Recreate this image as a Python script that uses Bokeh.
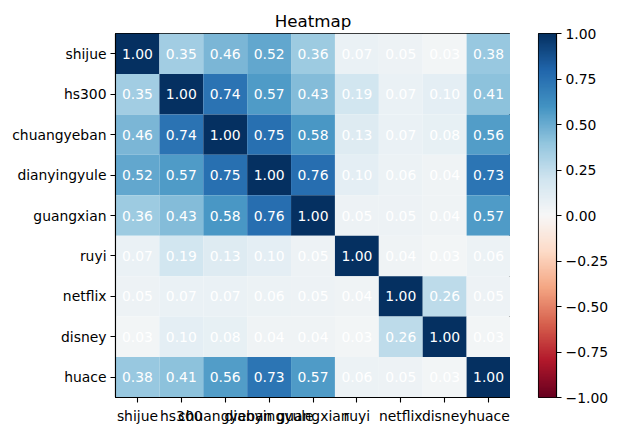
import numpy as np
from bokeh.plotting import figure
from bokeh.layouts import row
from bokeh.models import (ColumnDataSource, LinearColorMapper, FixedTicker,
                          CustomJSTickFormatter, FactorRange, Range1d)
from bokeh.core.properties import value
from bokeh.embed import file_html
from bokeh.resources import INLINE

names = ["shijue", "hs300", "chuangyeban", "dianyingyule", "guangxian",
         "ruyi", "netflix", "disney", "huace"]
row_shijue = [1.00, 0.35, 0.46, 0.52, 0.36, 0.07, 0.05, 0.03, 0.38]
row_hs300 = [0.35, 1.00, 0.74, 0.57, 0.43, 0.19, 0.07, 0.10, 0.41]
row_chuangyeban = [0.46, 0.74, 1.00, 0.75, 0.58, 0.13, 0.07, 0.08, 0.56]
row_dianyingyule = [0.52, 0.57, 0.75, 1.00, 0.76, 0.10, 0.06, 0.04, 0.73]
row_guangxian = [0.36, 0.43, 0.58, 0.76, 1.00, 0.05, 0.05, 0.04, 0.57]
row_ruyi = [0.07, 0.19, 0.13, 0.10, 0.05, 1.00, 0.04, 0.03, 0.06]
row_netflix = [0.05, 0.07, 0.07, 0.06, 0.05, 0.04, 1.00, 0.26, 0.05]
row_disney = [0.03, 0.10, 0.08, 0.04, 0.04, 0.03, 0.26, 1.00, 0.03]
row_huace = [0.38, 0.41, 0.56, 0.73, 0.57, 0.06, 0.05, 0.03, 1.00]
rows = [row_shijue, row_hs300, row_chuangyeban, row_dianyingyule, row_guangxian,
        row_ruyi, row_netflix, row_disney, row_huace]
cbar_ticks = [-1.0, -0.75, -0.5, -0.25, 0.0, 0.25, 0.5, 0.75, 1.0]
vmin, vmax = -1.0, 1.0

# matplotlib RdBu anchors, interpolated to 256 colours
anchors = ["#67001f", "#b2182b", "#d6604d", "#f4a582", "#fddbc7", "#f7f7f7",
           "#d1e5f0", "#92c5de", "#4393c3", "#2166ac", "#053061"]
arr = np.array([[int(h[i:i + 2], 16) for i in (1, 3, 5)] for h in anchors], float)
pos = np.linspace(0, 1, len(anchors))
pal = []
for v in np.linspace(0, 1, 256):
    rgb = [np.interp(v, pos, arr[:, k]) for k in range(3)]
    pal.append("#%02x%02x%02x" % tuple(int(round(c)) for c in rgb))

xs, ys, vals, labels = [], [], [], []
for i, r in enumerate(rows):
    for j, v in enumerate(r):
        xs.append(names[j])
        ys.append(names[i])
        vals.append(v)
        labels.append("%.2f" % v)
src = ColumnDataSource(dict(x=xs, y=ys, v=vals, lab=labels))

mapper = LinearColorMapper(palette=pal, low=vmin, high=vmax)

FONT = "DejaVu Sans"
TOP, BOT, FH = 33, 26, 364

p = figure(output_backend="svg", toolbar_location=None,
           x_range=FactorRange(*names), y_range=FactorRange(*names[::-1]),
           title="Heatmap", frame_width=395, frame_height=FH,
           min_border_left=115, min_border_right=0,
           min_border_top=TOP, min_border_bottom=BOT)
p.x_range.range_padding = 0
p.y_range.range_padding = 0
p.rect(x="x", y="y", width=1, height=1, source=src,
       fill_color={"field": "v", "transform": mapper}, line_color=None)
p.text(x="x", y="y", text="lab", source=src, text_color="white",
       text_align="center", text_baseline="middle",
       text_font=value(FONT), text_font_size="13.9px")

p.title.align = "center"
p.title.text_font = FONT
p.title.text_font_size = "16.7px"
p.title.text_font_style = "normal"
p.title.text_color = "black"
p.title.standoff = 6

p.grid.visible = False
p.outline_line_color = "black"
p.outline_line_width = 1.1
p.background_fill_color = "white"
p.border_fill_color = "white"
for ax in (p.xaxis[0], p.yaxis[0]):
    ax.axis_line_color = "black"
    ax.axis_line_width = 1.1
    ax.major_tick_line_color = "black"
    ax.major_tick_line_width = 1.1
    ax.major_tick_in = 0
    ax.major_tick_out = 5
    ax.major_label_text_font = FONT
    ax.major_label_text_font_size = "13.9px"
    ax.major_label_text_color = "black"
p.xaxis.major_label_standoff = 5
p.yaxis.major_label_standoff = 4

# colour bar as its own small figure
grad = np.linspace(vmin, vmax, 256).reshape(256, 1)
c = figure(output_backend="svg", toolbar_location=None,
           x_range=Range1d(0, 1), y_range=Range1d(vmin, vmax),
           frame_width=18, frame_height=FH, y_axis_location="right",
           min_border_left=28, min_border_right=58,
           min_border_top=TOP, min_border_bottom=BOT)
c.image(image=[grad], x=0, y=vmin, dw=1, dh=vmax - vmin, color_mapper=mapper)
c.xaxis.visible = False
c.grid.visible = False
c.outline_line_color = "black"
c.outline_line_width = 1.1
c.border_fill_color = "white"
ya = c.yaxis[0]
ya.ticker = FixedTicker(ticks=cbar_ticks)
ya.formatter = CustomJSTickFormatter(code="return tick.toFixed(2).replace('-', '\u2212');")
ya.axis_line_color = "black"
ya.axis_line_width = 1.1
ya.major_tick_line_color = "black"
ya.major_tick_line_width = 1.1
ya.major_tick_in = 0
ya.major_tick_out = 5
ya.minor_tick_line_color = None
ya.major_label_text_font = FONT
ya.major_label_text_font_size = "13.9px"
ya.major_label_text_color = "black"
ya.major_label_standoff = 4

layout = row(p, c, spacing=0)
open("out.html", "w").write(file_html(layout, INLINE))
